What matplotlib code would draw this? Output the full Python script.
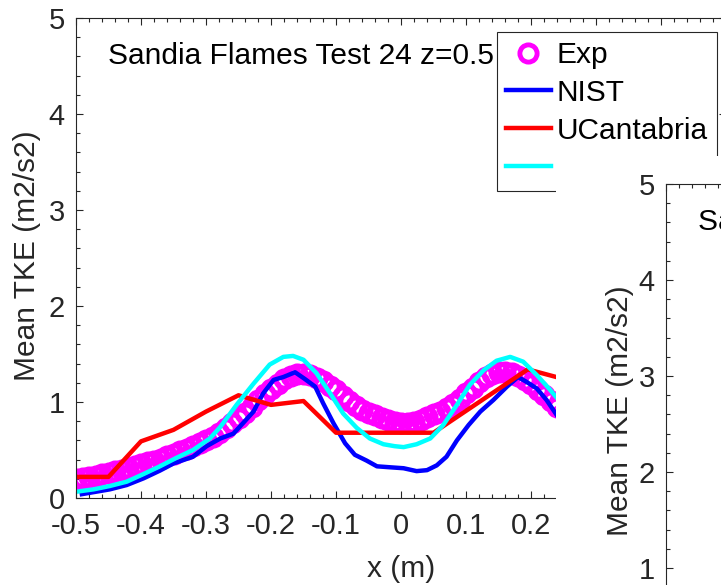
import matplotlib
matplotlib.use('Agg')
import matplotlib.pyplot as plt
from matplotlib.ticker import MultipleLocator

plt.rcParams['font.family'] = ['Liberation Sans', 'DejaVu Sans']
plt.rcParams['axes.unicode_minus'] = False

# experimental data (magenta circles)
exp_x = [-0.50, -0.49, -0.48, -0.47, -0.46, -0.45, -0.44, -0.43, -0.42, -0.41,
         -0.40, -0.39, -0.38, -0.37, -0.36, -0.35, -0.34, -0.33, -0.32, -0.31,
         -0.30, -0.29, -0.28, -0.27, -0.26, -0.25, -0.24, -0.23, -0.22, -0.21,
         -0.20, -0.19, -0.18, -0.17, -0.16, -0.15, -0.14, -0.13, -0.12, -0.11,
         -0.10, -0.09, -0.08, -0.07, -0.06, -0.05, -0.04, -0.03, -0.02, -0.01,
         0.00, 0.01, 0.02, 0.03, 0.04, 0.05, 0.06, 0.07, 0.08, 0.09,
         0.10, 0.11, 0.12, 0.13, 0.14, 0.15, 0.16, 0.17, 0.18, 0.19,
         0.20, 0.21, 0.22, 0.23, 0.24]
exp_tke = [0.20, 0.21, 0.22, 0.23, 0.25, 0.26, 0.28, 0.29, 0.31, 0.33,
           0.35, 0.37, 0.39, 0.41, 0.44, 0.46, 0.49, 0.51, 0.54, 0.57,
           0.60, 0.64, 0.68, 0.73, 0.78, 0.83, 0.89, 0.95, 1.02, 1.08,
           1.14, 1.19, 1.24, 1.27, 1.29, 1.29, 1.28, 1.25, 1.22, 1.17,
           1.12, 1.06, 1.01, 0.96, 0.92, 0.89, 0.86, 0.83, 0.81, 0.79,
           0.78, 0.78, 0.79, 0.81, 0.84, 0.87, 0.90, 0.94, 0.98, 1.03,
           1.09, 1.15, 1.21, 1.26, 1.29, 1.31, 1.31, 1.30, 1.27, 1.23,
           1.19, 1.13, 1.07, 1.01, 0.95]

# NIST (blue)
nist_x = [-0.491, -0.448, -0.422, -0.396, -0.371, -0.350, -0.320, -0.299, -0.278,
          -0.258, -0.243, -0.227, -0.212, -0.196, -0.181, -0.163, -0.148, -0.132,
          -0.120, -0.104, -0.086, -0.071, -0.053, -0.037, -0.017, 0.004, 0.024,
          0.040, 0.055, 0.070, 0.086, 0.104, 0.122, 0.142, 0.163, 0.180, 0.193,
          0.209, 0.224, 0.240]
nist_tke = [0.04, 0.09, 0.135, 0.205, 0.285, 0.36, 0.43, 0.54, 0.62,
            0.67, 0.78, 0.90, 1.09, 1.23, 1.26, 1.31, 1.24, 1.16,
            0.99, 0.78, 0.57, 0.45, 0.39, 0.33, 0.32, 0.31, 0.28,
            0.29, 0.34, 0.43, 0.60, 0.76, 0.90, 1.02, 1.16, 1.26, 1.21,
            1.14, 1.02, 0.86]

# UCantabria (red)
ucan_x = [-0.50, -0.45, -0.40, -0.35, -0.30, -0.25, -0.20, -0.15, -0.10, -0.05,
          0.00, 0.05, 0.195, 0.25]
ucan_tke = [0.22, 0.22, 0.59, 0.71, 0.90, 1.07, 0.97, 1.01, 0.68, 0.68,
            0.68, 0.68, 1.34, 1.24]

# fourth model (cyan)
cyan_x = [-0.499, -0.473, -0.448, -0.422, -0.396, -0.371, -0.345, -0.320, -0.294,
          -0.278, -0.253, -0.227, -0.202, -0.181, -0.166, -0.150, -0.130, -0.109,
          -0.089, -0.068, -0.048, -0.027, -0.010, 0.004, 0.024, 0.045, 0.065,
          0.086, 0.106, 0.127, 0.147, 0.168, 0.188, 0.209, 0.229, 0.245]
cyan_tke = [0.066, 0.09, 0.125, 0.17, 0.25, 0.33, 0.42, 0.50, 0.62,
            0.74, 0.97, 1.19, 1.39, 1.47, 1.48, 1.44, 1.30, 1.09,
            0.88, 0.73, 0.62, 0.56, 0.54, 0.53, 0.56, 0.62, 0.76,
            0.97, 1.18, 1.33, 1.43, 1.47, 1.42, 1.28, 1.13, 1.00]

series_labels = ['Exp', 'NIST', 'UCantabria', '']
title_text = 'Sandia Flames Test 24 z=0.5 m'
xtick_vals = [-0.5, -0.4, -0.3, -0.2, -0.1, 0, 0.1, 0.2, 0.3, 0.4, 0.5]
xtick_labels = ['-0.5', '-0.4', '-0.3', '-0.2', '-0.1', '0', '0.1', '0.2', '0.3', '0.4', '0.5']
ytick_vals = [0, 1, 2, 3, 4, 5]
axcol = '#262626'
fs = 21.5

W, H = 721, 585
fig = plt.figure(figsize=(W / 100, H / 100), dpi=100)


def style_axes(ax, xlabels):
    ax.set_xlim(-0.5, 0.5)
    ax.set_ylim(0, 5)
    ax.set_xticks(xtick_vals)
    ax.set_xticklabels(xlabels)
    ax.set_yticks(ytick_vals)
    ax.xaxis.set_minor_locator(MultipleLocator(0.02))
    ax.yaxis.set_minor_locator(MultipleLocator(0.2))
    ax.tick_params(which='both', direction='in', top=True, right=True,
                   colors=axcol, labelsize=21, width=0.8)
    ax.tick_params(which='major', length=5)
    ax.tick_params(which='minor', length=3)
    ax.tick_params(axis='y', pad=8)
    ax.tick_params(axis='x', pad=10)
    for s in ax.spines.values():
        s.set_color(axcol)
        s.set_linewidth(0.8)
    ax.set_ylabel('Mean TKE (m2/s2)', fontsize=fs, color=axcol)
    ax.set_xlabel('x (m)', fontsize=fs, color=axcol)
    ax.text(-0.451, 4.6, title_text, fontsize=fs, va='center', ha='left')


# main axes (right part runs past the figure edge, hidden labels left blank)
ax = fig.add_axes([76 / W, 1 - 498 / H, 650 / W, 480 / H])
style_axes(ax, xtick_labels[:8] + ['', '', ''])
ax.yaxis.set_label_coords(-0.054, 0.504)
ax.xaxis.set_label_coords(0.5, -0.118)

h_exp, = ax.plot(exp_x, exp_tke, 'o', color='magenta', mfc='none', ms=12.4, mew=3.5, ls='none')
h_nist, = ax.plot(nist_x, nist_tke, color='blue', lw=3.2)
h_ucan, = ax.plot(ucan_x, ucan_tke, color='red', lw=3.2)
h_cyan, = ax.plot(cyan_x, cyan_tke, color='cyan', lw=3.2)

leg = ax.legend([h_exp, h_nist, h_ucan, h_cyan], series_labels,
                loc='upper left', bbox_to_anchor=(497 / W, 1 - 32 / H),
                bbox_transform=fig.transFigure, fontsize=fs, frameon=True,
                fancybox=False, framealpha=1, edgecolor=axcol, borderaxespad=0,
                handlelength=1.5, handletextpad=0.2, labelspacing=0.33, borderpad=0.3)
leg.get_frame().set_linewidth(0.8)

# second figure window lying on top (white background)
cover = fig.add_axes([556 / W, 0, 1 - 556 / W, 1 - 156 / H], zorder=5)
cover.set_facecolor('white')
cover.set_xticks([])
cover.set_yticks([])
for s in cover.spines.values():
    s.set_visible(False)

ax2 = fig.add_axes([666 / W, 1 - 664 / H, 650 / W, 480 / H], zorder=6)
style_axes(ax2, ['' for _ in xtick_labels])
ax2.yaxis.set_label_coords(-0.05, 0.527)

fig.savefig('out.png', dpi=100)
